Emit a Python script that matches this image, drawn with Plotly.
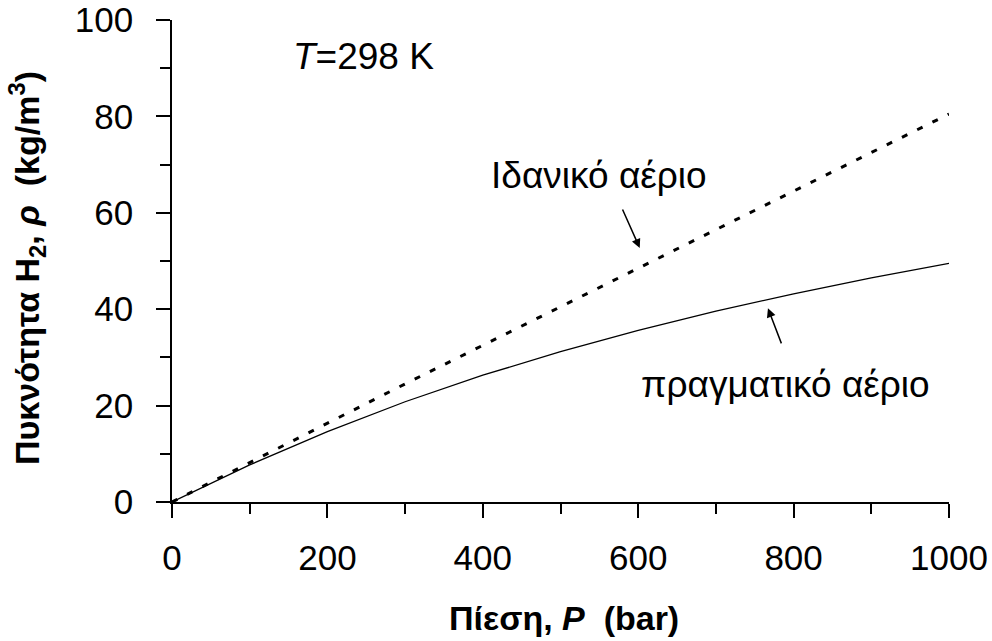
import plotly.graph_objects as go

pressure = [0, 100, 200, 300, 400, 500, 600, 700, 800, 900, 1000]
rho_ideal = [0, 8.2, 16.3, 24.5, 32.5, 40.5, 48.6, 56.5, 64.5, 72.5, 80.5]
rho_real = [0, 7.7, 14.6, 20.8, 26.3, 31.2, 35.6, 39.6, 43.2, 46.5, 49.5]

x_ticks = [0, 200, 400, 600, 800, 1000]
y_ticks = [0, 20, 40, 60, 80, 100]

FONT = "Liberation Sans, Arial, sans-serif"

fig = go.Figure()
fig.add_trace(go.Scatter(x=pressure, y=rho_real, mode="lines",
                         line=dict(color="black", width=1.3), showlegend=False))
fig.add_trace(go.Scatter(x=pressure, y=rho_ideal, mode="lines",
                         line=dict(color="black", width=3, dash="6px,11px"),
                         showlegend=False))

axis_common = dict(
    showgrid=False, zeroline=False, showline=True, linecolor="black", linewidth=1.5,
    ticks="outside", ticklen=14, tickwidth=1.5, tickcolor="black", automargin=False,
    tickfont=dict(family=FONT, size=35, color="black"),
)

fig.update_xaxes(range=[0, 1000], tickvals=x_ticks, **axis_common,
                 minor=dict(ticks="outside", ticklen=10, tickwidth=1.5, tickcolor="black", dtick=100, tick0=0),
                 ticklabelstandoff=10)
fig.update_yaxes(range=[0, 100], tickvals=y_ticks, **axis_common,
                 minor=dict(ticks="outside", ticklen=10, tickwidth=1.5, tickcolor="black", dtick=10, tick0=0),
                 ticklabelstandoff=16)

fig.add_annotation(x=0.5, y=0, xref="paper", yref="paper", yshift=-116, xshift=3,
                   text="<b>Πίεση, <i>P</i>  (bar)</b>", showarrow=False,
                   font=dict(family=FONT, size=34, color="black"),
                   xanchor="center", yanchor="middle")
fig.add_annotation(x=0, y=0.5, xref="paper", yref="paper", xshift=-145, yshift=-7,
                   text="<b>Πυκνότητα H<sub>2</sub>, <i>ρ</i>  (kg/m<sup>3</sup>)</b>", showarrow=False,
                   font=dict(family=FONT, size=34, color="black"), textangle=-90,
                   xanchor="center", yanchor="middle")

ann_font = dict(family=FONT, size=37, color="black")
fig.add_annotation(x=246, y=92.5, xref="x", yref="y", text="<i>T</i>=298 K", showarrow=False, font=ann_font)
fig.add_annotation(x=550, y=67.8, xref="x", yref="y", text="Ιδανικό αέριο", showarrow=False, font=ann_font)
fig.add_annotation(x=789, y=24.3, xref="x", yref="y", text="πραγματικό αέριο", showarrow=False, font=ann_font)
fig.add_annotation(x=602, y=52.7, ax=579, ay=61, xref="x", yref="y", axref="x", ayref="y",
                   text="", showarrow=True, arrowhead=2, arrowsize=1.2, arrowwidth=1.5, arrowcolor="black")
fig.add_annotation(x=767, y=40.2, ax=785, ay=32.6, xref="x", yref="y", axref="x", ayref="y",
                   text="", showarrow=True, arrowhead=2, arrowsize=1.2, arrowwidth=1.5, arrowcolor="black")

fig.update_layout(width=992, height=641, margin=dict(l=172, r=43, t=20, b=139, autoexpand=False),
                  plot_bgcolor="white", paper_bgcolor="white", font=dict(family=FONT, color="black"))

fig.write_html("out.html", config={"displayModeBar": False},
               post_script="document.body.style.margin='0';document.body.style.overflow='hidden';")
